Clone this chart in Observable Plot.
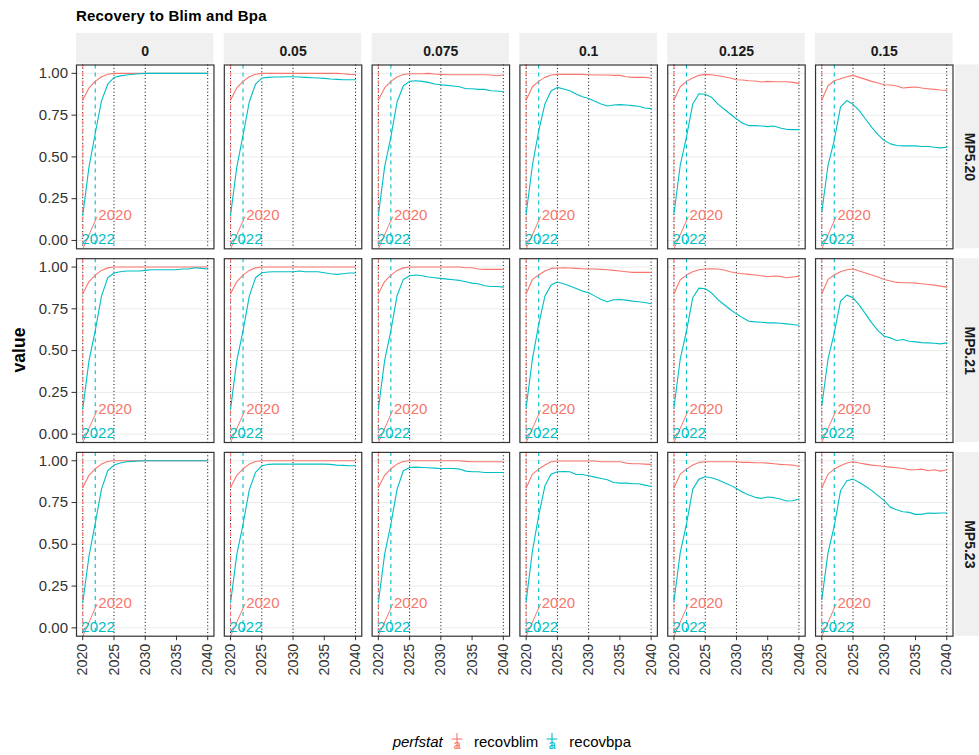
<!DOCTYPE html>
<html><head><meta charset="utf-8">
<script src="https://cdn.jsdelivr.net/npm/d3@7"></script>
<script src="https://cdn.jsdelivr.net/npm/@observablehq/plot@0.6"></script>
<style>
html,body{margin:0;padding:0;background:#fff;}
#wrap{position:relative;width:979px;height:755px;overflow:hidden;font-family:"Liberation Sans",Arial,sans-serif;background:#fff;}
#title{position:absolute;left:76px;top:8px;font-size:15px;font-weight:bold;line-height:15px;color:#000;white-space:nowrap;letter-spacing:0.2px;}
#chart{position:absolute;left:0;top:24px;}
#ylab{position:absolute;left:19px;top:350px;transform:translate(-50%,-50%) rotate(-90deg);font-size:17.5px;font-weight:bold;color:#000;white-space:nowrap;}
#legend{position:absolute;left:392.7px;top:731px;height:20px;display:flex;align-items:center;font-size:15px;color:#000;white-space:nowrap;}
#legend .lt{font-style:italic;margin-right:4px;}
#legend .lab{margin-left:7.3px;margin-right:3.8px;}
</style></head><body>
<div id="wrap">
  <div id="title">Recovery to Blim and Bpa</div>
  <div id="chart"></div>
  <div id="ylab">value</div>
  <div id="legend"></div>
</div>
<script>
// ---------------- data ----------------
const years = [2020,2021,2022,2023,2024,2025,2026,2027,2028,2029,2030,2031,2032,2033,2034,2035,2036,2037,2038,2039,2040];
const facetCols = ["0","0.05","0.075","0.1","0.125","0.15"];
const facetRows = ["MP5.20","MP5.21","MP5.23"];
const series = ["recovblim","recovbpa"];
const seriesColors = ["#F8766D","#00BFC4"];
const xTicks = [2020,2025,2030,2035,2040];
const yTicks = [0,0.25,0.5,0.75,1];
const dottedYears = [2020,2025,2030,2040];
const blimYear = [2020];
const bpaYear = [2022];

// recovblim, one list per column (0 ... 0.15), years 2020-2040
const blim_MP520 = [
  [0.84,0.913,0.952,0.98,0.995,1,1,1,1,1,1,1,1,1,1,1,1,1,1,1,1],
  [0.84,0.913,0.952,0.98,0.995,1,1,1,1,1,1,1,1,1,1,1,1,1,0.998,0.994,0.992],
  [0.84,0.913,0.952,0.978,0.993,0.998,0.998,0.998,1,0.996,0.994,0.992,0.992,0.992,0.992,0.992,0.992,0.992,0.99,0.986,0.99],
  [0.84,0.92,0.952,0.976,0.99,0.994,0.994,0.994,0.994,0.994,0.992,0.99,0.99,0.99,0.988,0.988,0.98,0.976,0.976,0.976,0.972],
  [0.84,0.92,0.952,0.972,0.988,0.994,0.992,0.986,0.98,0.972,0.962,0.96,0.956,0.954,0.948,0.952,0.95,0.95,0.95,0.946,0.94],
  [0.84,0.926,0.956,0.968,0.98,0.988,0.976,0.964,0.952,0.942,0.932,0.93,0.924,0.912,0.916,0.918,0.912,0.908,0.904,0.9,0.898]
];
const bpa_MP520 = [
  [0.15,0.44,0.64,0.835,0.935,0.975,0.985,0.99,0.995,0.998,1,1,1,1,1,1,1,1,1,1,1],
  [0.15,0.44,0.63,0.83,0.935,0.972,0.976,0.978,0.978,0.98,0.98,0.978,0.976,0.974,0.972,0.97,0.966,0.964,0.962,0.962,0.962],
  [0.15,0.44,0.62,0.83,0.926,0.952,0.956,0.952,0.946,0.936,0.932,0.928,0.924,0.92,0.908,0.908,0.904,0.904,0.896,0.894,0.89],
  [0.16,0.45,0.655,0.817,0.896,0.916,0.906,0.896,0.876,0.86,0.85,0.833,0.817,0.805,0.811,0.813,0.811,0.807,0.803,0.793,0.789],
  [0.16,0.45,0.62,0.817,0.878,0.875,0.857,0.817,0.787,0.757,0.727,0.701,0.687,0.687,0.685,0.681,0.685,0.673,0.665,0.663,0.663],
  [0.17,0.45,0.6,0.8,0.837,0.815,0.777,0.727,0.677,0.633,0.598,0.578,0.568,0.566,0.566,0.566,0.562,0.562,0.558,0.554,0.558]
];
const blim_MP521 = [
  [0.84,0.913,0.952,0.98,0.995,1,1,1,1,1,1,1,1,1,1,1,1,1,1,1,1],
  [0.84,0.913,0.952,0.98,0.995,1,1,1,1,1,1,1,1,1,1,1,1,1,1,1,1],
  [0.84,0.913,0.952,0.98,0.995,1,1,1,1,1,1,1,1,1,0.996,0.996,0.988,0.986,0.986,0.986,0.986],
  [0.84,0.926,0.952,0.976,0.992,0.994,0.996,0.994,0.992,0.99,0.988,0.988,0.986,0.984,0.98,0.976,0.972,0.968,0.968,0.968,0.968],
  [0.84,0.924,0.952,0.972,0.984,0.988,0.99,0.988,0.982,0.972,0.964,0.96,0.956,0.952,0.948,0.942,0.946,0.944,0.936,0.94,0.944],
  [0.84,0.926,0.952,0.972,0.984,0.988,0.976,0.964,0.952,0.94,0.926,0.916,0.908,0.906,0.906,0.904,0.9,0.896,0.892,0.886,0.88]
];
const bpa_MP521 = [
  [0.15,0.44,0.62,0.826,0.936,0.964,0.972,0.976,0.976,0.976,0.98,0.984,0.984,0.984,0.984,0.984,0.988,0.988,0.996,0.992,0.988],
  [0.15,0.44,0.62,0.826,0.936,0.966,0.97,0.972,0.972,0.972,0.972,0.976,0.972,0.972,0.972,0.966,0.96,0.956,0.96,0.964,0.964],
  [0.15,0.44,0.62,0.83,0.926,0.948,0.952,0.948,0.94,0.936,0.932,0.928,0.924,0.92,0.912,0.904,0.9,0.888,0.884,0.884,0.88],
  [0.16,0.45,0.656,0.826,0.892,0.91,0.9,0.886,0.872,0.856,0.846,0.826,0.806,0.792,0.804,0.806,0.802,0.796,0.792,0.788,0.78],
  [0.16,0.45,0.616,0.816,0.874,0.87,0.846,0.806,0.776,0.746,0.72,0.696,0.676,0.672,0.67,0.666,0.666,0.664,0.66,0.656,0.652],
  [0.17,0.45,0.606,0.796,0.832,0.816,0.772,0.72,0.666,0.62,0.586,0.576,0.56,0.566,0.556,0.552,0.548,0.546,0.544,0.54,0.546]
];
const blim_MP523 = [
  [0.84,0.913,0.952,0.98,0.995,1,1,1,1,1,1,1,1,1,1,1,1,1,1,1,1],
  [0.84,0.913,0.952,0.98,0.995,1,1,1,1,1,1,1,1,1,1,1,1,1,1,1,1],
  [0.84,0.913,0.952,0.98,0.995,1,1,1,1,1,1,1,1,1,0.996,0.994,0.994,0.994,0.994,0.994,0.994],
  [0.837,0.92,0.95,0.974,0.994,0.998,0.998,0.998,0.998,0.998,0.998,0.998,0.994,0.994,0.994,0.994,0.986,0.982,0.982,0.98,0.978],
  [0.837,0.92,0.95,0.974,0.99,0.994,0.994,0.994,0.994,0.994,0.994,0.99,0.99,0.988,0.988,0.986,0.982,0.978,0.976,0.974,0.966],
  [0.837,0.92,0.95,0.97,0.986,0.994,0.986,0.98,0.974,0.97,0.966,0.962,0.958,0.954,0.946,0.946,0.95,0.94,0.946,0.938,0.946]
];
const bpa_MP523 = [
  [0.15,0.43,0.625,0.83,0.94,0.974,0.986,0.994,0.996,0.998,1,1,1,1,1,1,1,1,1,1,1],
  [0.15,0.44,0.62,0.826,0.93,0.97,0.978,0.98,0.98,0.98,0.98,0.98,0.98,0.98,0.98,0.98,0.978,0.974,0.972,0.97,0.97],
  [0.15,0.44,0.62,0.83,0.94,0.96,0.962,0.96,0.958,0.956,0.954,0.954,0.954,0.95,0.938,0.934,0.934,0.93,0.93,0.93,0.93],
  [0.16,0.46,0.671,0.85,0.92,0.934,0.936,0.934,0.918,0.918,0.91,0.902,0.894,0.886,0.87,0.866,0.866,0.862,0.862,0.854,0.846],
  [0.16,0.45,0.62,0.83,0.89,0.904,0.898,0.886,0.87,0.854,0.834,0.811,0.795,0.781,0.775,0.783,0.779,0.771,0.759,0.761,0.771],
  [0.17,0.45,0.61,0.82,0.88,0.89,0.87,0.847,0.821,0.791,0.761,0.721,0.707,0.695,0.691,0.679,0.679,0.687,0.685,0.687,0.687]
];

// ---------------- table ----------------
const blimByRow = [blim_MP520, blim_MP521, blim_MP523];
const bpaByRow = [bpa_MP520, bpa_MP521, bpa_MP523];
const table = [];
facetRows.forEach((r, ri) => facetCols.forEach((c, ci) => {
  years.forEach((yr, k) => {
    table.push({fx: c, fy: r, perfstat: series[0], year: yr, value: blimByRow[ri][ci][k]});
    table.push({fx: c, fy: r, perfstat: series[1], year: yr, value: bpaByRow[ri][ci][k]});
  });
}));
const topStrips = facetCols.map(c => ({fx: c, fy: facetRows[0]}));
const rightStrips = facetRows.map(r => ({fx: facetCols[facetCols.length - 1], fy: r}));

const plot = Plot.plot({
  width: 979,
  height: 700,
  marginLeft: 76,
  marginRight: 26.5,
  marginTop: 40.5,
  marginBottom: 88.3,
  style: {fontFamily: "'Liberation Sans', Arial, sans-serif", fontSize: "15px", color: "#333", background: "#fff", overflow: "visible"},
  fx: {domain: facetCols, padding: 0.07, axis: null, round: false},
  fy: {domain: facetRows, padding: 0.051, axis: null, round: false},
  x: {domain: [2019, 2041]},
  y: {domain: [-0.05, 1.05]},
  color: {domain: series, range: seriesColors},
  marks: [
    Plot.gridY({ticks: yTicks, stroke: "#ebebeb", strokeOpacity: 1, strokeWidth: 1}),
    Plot.ruleX(dottedYears, {stroke: "#000", strokeWidth: 1, strokeDasharray: "1,2.4"}),
    Plot.ruleX(blimYear, {stroke: seriesColors[0], strokeWidth: 1.1, strokeDasharray: "4,4"}),
    Plot.ruleX(bpaYear, {stroke: seriesColors[1], strokeWidth: 1.1, strokeDasharray: "4,4"}),
    Plot.line(table, {x: "year", y: "value", stroke: "perfstat", fx: "fx", fy: "fy", strokeWidth: 1.1}),
    Plot.link(blimYear, {x1: d => d, y1: -0.05, x2: d => d + 2.3, y2: 0.143, stroke: seriesColors[0], strokeWidth: 1}),
    Plot.text(blimYear, {x: d => d, y: 0.15, text: d => String(d), dx: 15.6, textAnchor: "start", fill: seriesColors[0], fontSize: 15}),
    Plot.text(bpaYear, {x: d => d, y: 0.005, text: d => String(d), dx: 2.8, textAnchor: "middle", fill: seriesColors[1], fontSize: 15}),
    Plot.frame({stroke: "#333", strokeWidth: 1.2}),
    // strips
    Plot.rect(topStrips, {fx: "fx", fy: "fy", x1: 2019, x2: 2041, y1: 1.05, y2: 1.05, insetTop: -31.5, insetBottom: 1, fill: "#f0f0f0"}),
    Plot.text(topStrips, {fx: "fx", fy: "fy", x: 2030, y: 1.05, dy: -13, text: "fx", fontWeight: "bold", fontSize: 14, fill: "#1a1a1a"}),
    Plot.rect(rightStrips, {fx: "fx", fy: "fy", x1: 2041, x2: 2041, y1: -0.05, y2: 1.05, insetLeft: 2.5, insetRight: -40, fill: "#f0f0f0"}),
    Plot.text(rightStrips, {fx: "fx", fy: "fy", x: 2041, y: 0.5, dx: 16, rotate: 90, text: "fy", fontWeight: "bold", fontSize: 14, fill: "#1a1a1a"}),
    // axes
    Plot.axisY({ticks: yTicks, tickFormat: ".2f", tickSize: 4.5, tickPadding: 4, fontSize: 15, label: null}),
    Plot.axisX({ticks: xTicks, tickFormat: "d", tickRotate: -90, tickSize: 4.5, tickPadding: 3, fontSize: 14.3, label: null})
  ]
});
document.getElementById("chart").appendChild(plot);

// ---------------- legend ----------------
const legend = document.getElementById("legend");
const lt = document.createElement("span");
lt.className = "lt";
lt.textContent = "perfstat";
legend.appendChild(lt);
series.forEach((s, i) => {
  const col = seriesColors[i];
  const key = d3.create("svg").attr("width", 20).attr("height", 20).style("display", "block");
  key.append("line").attr("x1", 10).attr("x2", 10).attr("y1", 2).attr("y2", 18).attr("stroke", col).attr("stroke-width", 1.1);
  key.append("line").attr("x1", 4.6).attr("x2", 15.4).attr("y1", 8).attr("y2", 8).attr("stroke", col).attr("stroke-width", 1.1);
  key.append("text").attr("x", 10).attr("y", 17.5).attr("text-anchor", "middle").attr("fill", col)
    .attr("font-size", 13).attr("font-family", "'Liberation Sans', Arial, sans-serif").text("a");
  legend.appendChild(key.node());
  const lab = document.createElement("span");
  lab.className = "lab";
  lab.textContent = s;
  legend.appendChild(lab);
});
</script>
</body></html>
